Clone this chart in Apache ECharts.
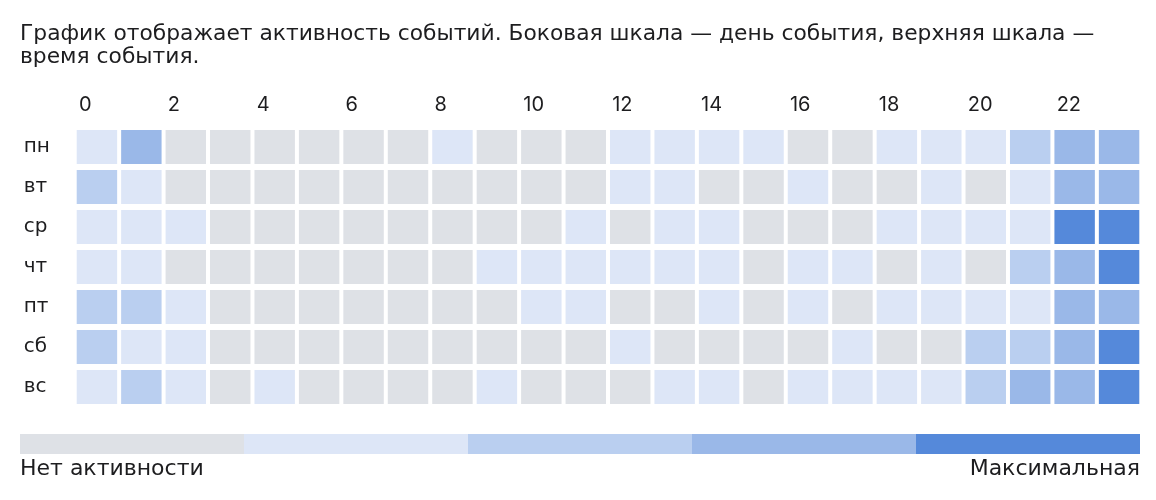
<!DOCTYPE html>
<html>
<head>
<meta charset="utf-8">
<script src="https://cdn.jsdelivr.net/npm/echarts@6/dist/echarts.min.js"></script>
<style>
  html, body { margin: 0; padding: 0; background: #fff; }
  #chart { width: 1156px; height: 500px; }
</style>
</head>
<body>
<div id="chart"></div>
<script>
// дни недели (боковая шкала) и часы (верхняя шкала)
const days = ['пн', 'вт', 'ср', 'чт', 'пт', 'сб', 'вс'];
const hours = ['0', '1', '2', '3', '4', '5', '6', '7', '8', '9', '10', '11',
  '12', '13', '14', '15', '16', '17', '18', '19', '20', '21', '22', '23'];

// уровень активности 0..4 для каждого часа
const mon = [1, 3, 0, 0, 0, 0, 0, 0, 1, 0, 0, 0, 1, 1, 1, 1, 0, 0, 1, 1, 1, 2, 3, 3];
const tue = [2, 1, 0, 0, 0, 0, 0, 0, 0, 0, 0, 0, 1, 1, 0, 0, 1, 0, 0, 1, 0, 1, 3, 3];
const wed = [1, 1, 1, 0, 0, 0, 0, 0, 0, 0, 0, 1, 0, 1, 1, 0, 0, 0, 1, 1, 1, 1, 4, 4];
const thu = [1, 1, 0, 0, 0, 0, 0, 0, 0, 1, 1, 1, 1, 1, 1, 0, 1, 1, 0, 1, 0, 2, 3, 4];
const fri = [2, 2, 1, 0, 0, 0, 0, 0, 0, 0, 1, 1, 0, 0, 1, 0, 1, 0, 1, 1, 1, 1, 3, 3];
const sat = [2, 1, 1, 0, 0, 0, 0, 0, 0, 0, 0, 0, 1, 0, 0, 0, 0, 1, 0, 0, 2, 2, 3, 4];
const sun = [1, 2, 1, 0, 1, 0, 0, 0, 0, 1, 0, 0, 0, 1, 1, 0, 1, 1, 1, 1, 2, 3, 3, 4];

const levels = [0, 1, 2, 3, 4];
const levelColors = ['#dee1e6', '#dde6f7', '#bacff0', '#9ab8e8', '#5589da'];

const textFont = '"DejaVu Sans", sans-serif';
const digitFont = 'Inter, "Noto Sans", sans-serif';
const textColor = '#1d1d1f';

const rows = [mon, tue, wed, thu, fri, sat, sun];
const cells = [];
rows.forEach((row, d) => {
  row.forEach((v, h) => cells.push([h, d, v]));
});

const chart = echarts.init(document.getElementById('chart'));

chart.setOption({
  animation: false,
  title: [
    {
      text: 'График отображает активность событий. Боковая шкала — день события, верхняя шкала —\nвремя события.',
      left: 20,
      top: 23,
      padding: 0,
      textStyle: { fontFamily: textFont, fontSize: 21.8, fontWeight: 'normal', color: textColor, lineHeight: 23 }
    },
    {
      text: 'Нет активности',
      left: 20,
      top: 458,
      padding: 0,
      textStyle: { fontFamily: textFont, fontSize: 22, fontWeight: 'normal', color: textColor }
    },
    {
      text: 'Максимальная',
      right: 16,
      top: 458,
      padding: 0,
      textStyle: { fontFamily: textFont, fontSize: 22, fontWeight: 'normal', color: textColor }
    }
  ],
  grid: { left: 74.7, right: 14.7, top: 127, height: 280 },
  xAxis: {
    type: 'category',
    position: 'top',
    data: hours,
    axisLine: { show: false },
    axisTick: { show: false },
    splitLine: { show: false },
    axisLabel: {
      interval: 1,
      align: 'left',
      margin: 12,
      padding: [0, 0, 0, -18],
      fontFamily: digitFont,
      fontSize: 20,
      color: textColor
    }
  },
  yAxis: {
    type: 'category',
    inverse: true,
    data: days,
    axisLine: { show: false },
    axisTick: { show: false },
    splitLine: { show: false },
    axisLabel: {
      align: 'left',
      margin: 51,
      padding: [0, 0, 16, 0],
      fontFamily: textFont,
      fontSize: 20,
      color: textColor
    }
  },
  visualMap: {
    type: 'piecewise',
    seriesIndex: 0,
    dimension: 2,
    orient: 'horizontal',
    left: 20,
    top: 434,
    padding: 0,
    itemWidth: 224,
    itemHeight: 20,
    itemGap: 0,
    itemSymbol: 'rect',
    showLabel: false,
    selectedMode: false,
    pieces: levels.map((v, i) => ({ value: v, color: levelColors[i] }))
  },
  series: [{
    type: 'custom',
    data: cells,
    encode: { x: 0, y: 1 },
    renderItem(params, api) {
      const c = api.coord([api.value(0), api.value(1)]);
      const s = api.size([1, 1]);
      return {
        type: 'rect',
        shape: { x: c[0] - s[0] / 2 + 2, y: c[1] - s[1] / 2 + 3, width: s[0] - 4, height: s[1] - 6 },
        style: { fill: api.visual('color') }
      };
    }
  }]
});
</script>
</body>
</html>
